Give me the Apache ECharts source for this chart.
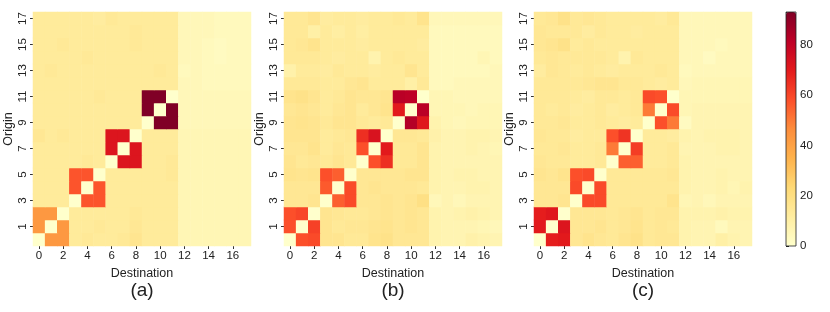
<!DOCTYPE html>
<html><head><meta charset="utf-8">
<script src="https://cdn.jsdelivr.net/npm/echarts@6/dist/echarts.min.js"></script>
<style>html,body{margin:0;padding:0;background:#fff}#c{width:830px;height:312px}</style>
</head><body><div id="c"></div>
<script>
const destinations = Array.from({length:18},(_,i)=>String(i));
const origins = Array.from({length:18},(_,i)=>String(i));
const panelLabels = ['(a)','(b)','(c)'];
const colorbarTicks = [0,20,40,60,80];
// rows indexed by origin (0 = bottom), columns by destination
const panelA = [
 [0,43,43,13,14,13,13,14,16,13,13,13,6,6,6,6,6,6],
 [43,0,43,13,13,14,13,13,15,13,13,13,6,6,6,6,6,6],
 [43,43,0,13,13,13,13,13,14,13,13,13,6,6,6,6,6,6],
 [13,13,13,0,57,57,13,13,13,13,13,13,6,6,6,6,6,6],
 [13,13,13,57,0,57,13,13,13,13,13,13,6,6,6,6,6,6],
 [13,13,13,57,57,0,13,13,13,13,13,14,6,6,6,6,6,6],
 [13,13,13,13,14,13,0,72,72,13,13,14,6,6,6,6,6,6],
 [13,13,13,13,13,13,72,0,72,13,13,13,6,6,6,6,6,6],
 [15,13,14,13,13,13,72,72,0,13,13,13,6,6,6,6,6,6],
 [13,13,13,13,13,13,13,13,13,0,93,93,5,5,5,5,5,5],
 [13,13,13,13,13,13,13,13,13,93,0,93,5,5,5,5,5,5],
 [13,13,13,13,13,14,13,13,13,93,93,0,5,5,5,5,5,5],
 [13,13,13,13,13,13,13,13,13,13,13,13,5,5,4,4,4,4],
 [13,14,13,13,13,13,13,13,13,13,14,13,4,5,4,4,4,4],
 [13,13,13,13,14,13,13,13,13,13,13,13,5,5,4,3,4,4],
 [13,13,14,13,13,13,13,13,14,13,13,13,5,5,4,3,4,4],
 [13,13,13,13,13,13,13,13,14,13,13,13,5,5,5,4,4,4],
 [13,13,13,13,13,12,14,13,13,13,13,13,5,5,5,4,4,4]
];
const panelB = [
 [0,58,59,16,16,14,14,17,18,15,15,15,8,7,7,9,8,7],
 [58,0,61,16,14,15,15,16,17,15,16,15,8,7,7,7,6,5],
 [58,60,0,16,15,14,14,15,16,15,16,15,8,7,8,9,8,7],
 [15,15,16,0,55,59,15,15,16,15,16,19,5,7,5,7,7,7],
 [15,15,15,56,0,59,15,16,15,15,15,14,8,7,7,8,8,7],
 [17,16,17,58,55,0,15,15,15,15,16,16,8,7,8,8,7,7],
 [16,14,15,14,16,14,0,58,65,14,14,16,8,7,7,7,7,7],
 [15,15,17,13,15,14,58,0,70,14,14,16,8,7,7,8,7,6],
 [16,16,16,13,14,15,65,73,0,15,15,14,9,7,7,8,8,7],
 [16,17,16,14,16,16,14,13,14,0,83,71,8,6,5,6,6,6],
 [15,16,15,13,15,16,13,15,17,70,0,82,6,6,6,5,6,6],
 [17,18,16,13,14,16,15,15,16,82,81,0,6,6,5,5,5,5],
 [14,14,14,13,13,15,16,13,13,13,10,14,4,4,5,5,5,5],
 [9,13,13,12,14,13,13,12,13,13,16,13,4,4,4,4,4,5],
 [14,14,14,13,12,13,13,8,13,14,13,13,4,4,4,4,6,4],
 [14,15,17,13,13,13,12,13,13,13,13,12,4,4,4,4,4,4],
 [14,14,10,13,11,13,11,13,13,13,13,13,4,4,4,4,4,4],
 [14,14,16,12,13,13,12,13,13,14,13,17,5,5,5,5,5,5]
];
const panelC = [
 [0,69,70,15,17,15,14,16,18,14,15,15,8,7,7,10,8,7],
 [70,0,72,15,15,16,14,15,17,14,15,14,8,7,7,4,7,7],
 [69,71,0,15,15,15,14,15,16,14,15,15,8,8,8,9,8,8],
 [15,15,16,0,59,59,14,14,14,14,14,17,6,7,5,7,7,7],
 [15,15,15,59,0,59,14,14,14,14,14,14,8,7,7,8,6,8],
 [16,15,17,58,59,0,14,14,14,14,14,15,8,7,7,8,7,7],
 [15,14,14,13,13,14,0,55,55,13,13,14,8,7,7,7,7,7],
 [14,14,15,13,13,14,50,0,62,13,13,14,7,7,7,8,8,7],
 [15,14,14,12,13,13,58,64,0,13,13,12,8,7,8,8,8,7],
 [14,14,15,13,13,14,13,12,13,0,58,50,3,7,7,7,7,7],
 [14,13,14,12,13,14,12,13,14,50,0,59,6,7,7,7,7,7],
 [14,14,14,13,12,14,14,13,14,59,58,0,6,6,6,6,6,6],
 [14,14,14,14,15,16,16,14,14,13,12,13,5,6,6,6,6,6],
 [12,15,14,13,14,13,12,13,13,13,14,13,4,5,5,5,5,5],
 [14,15,14,14,14,14,13,8,14,13,13,13,5,5,3,5,5,5],
 [15,16,18,13,14,13,13,13,13,13,13,13,5,5,5,4,5,5],
 [15,14,14,14,12,14,13,13,12,13,13,13,5,5,5,5,5,5],
 [14,15,18,14,15,14,13,13,13,13,12,14,5,5,5,5,5,5]
];
const panels = [panelA, panelB, panelC];
const vmax = 93;

const FONT = 'Liberation Sans, Arial, sans-serif';
const gridLefts = [33, 284, 534];
const GW = 218, GH = 234, GT = 12;
const grids = [], xAxes = [], yAxes = [], series = [], graphics = [];
panels.forEach((m, k) => {
  grids.push({left: gridLefts[k], top: GT, width: GW, height: GH});
  xAxes.push({type:'category', gridIndex:k, data:destinations, position:'bottom',
    axisLine:{show:false},
    axisTick:{show:true, alignWithLabel:true, length:3, lineStyle:{color:'#333'}, interval:(i)=>i%2===0},
    axisLabel:{interval:(i)=>i%2===0, fontFamily:FONT, fontSize:11.5, color:'#222', margin:4},
    splitLine:{show:false},
    name:'Destination', nameLocation:'middle', nameGap:18,
    nameTextStyle:{fontFamily:FONT, fontSize:12.5, color:'#222'}});
  yAxes.push({type:'category', gridIndex:k, data:origins,
    axisLine:{show:false},
    axisTick:{show:true, alignWithLabel:true, length:3, lineStyle:{color:'#333'}, interval:(i)=>i%2===1},
    axisLabel:{interval:(i)=>i%2===1, rotate:90, fontFamily:FONT, fontSize:11.5, color:'#222', margin:4},
    splitLine:{show:false},
    name:'Origin', nameLocation:'middle', nameGap:18, nameRotate:90,
    nameTextStyle:{fontFamily:FONT, fontSize:12.5, color:'#222'}});
  const data = [];
  m.forEach((row, o) => row.forEach((v, d) => data.push([d, o, v])));
  series.push({type:'heatmap', xAxisIndex:k, yAxisIndex:k, data:data,
    itemStyle:{borderWidth:0}, emphasis:{disabled:true}, progressive:0});
  graphics.push({type:'text', x: gridLefts[k] + GW/2, y: 291,
    style:{text:panelLabels[k], font:'19px ' + FONT, fill:'#222', textAlign:'center', textVerticalAlign:'middle'}});
});
// colorbar axis
grids.push({left:786, top:GT, width:10, height:GH, show:true, borderColor:'#222', borderWidth:0.8, backgroundColor:'transparent', z:10});
xAxes.push({type:'value', gridIndex:3, show:false});
yAxes.push({type:'value', gridIndex:3, min:0, max:vmax, interval:20, position:'right',
  axisLine:{show:false}, splitLine:{show:false},
  axisTick:{show:true, length:3, lineStyle:{color:'#222'}},
  axisLabel:{fontFamily:FONT, fontSize:11.5, color:'#222', margin:4,
    formatter:(v)=>colorbarTicks.includes(v)?String(v):''}});

const chart = echarts.init(document.getElementById('c'), null, {renderer:'canvas'});
chart.setOption({
  animation:false,
  backgroundColor:'#fff',
  grid:grids, xAxis:xAxes, yAxis:yAxes, series:series,
  visualMap:{type:'continuous', min:0, max:vmax, seriesIndex:[0,1,2], orient:'vertical',
    left:786, top:GT, itemWidth:10, itemHeight:GH, padding:0, calculable:false, realtime:false,
    text:null, showLabel:false, hoverLink:false,
    inRange:{color:['#ffffcc','#ffeda0','#fed976','#feb24c','#fd8d3c','#fc4e2a','#e31a1c','#bd0026','#800026']}},
  graphic:graphics
});
</script></body></html>
